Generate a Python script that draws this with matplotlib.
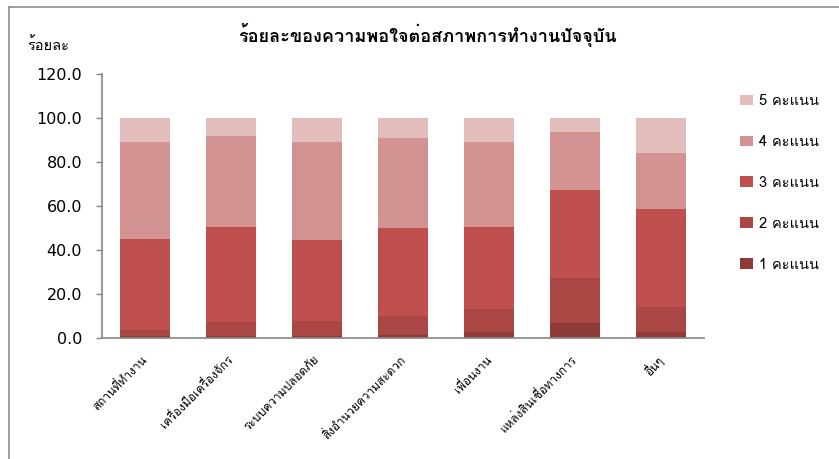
import matplotlib
matplotlib.use("Agg")
import matplotlib.pyplot as plt
from matplotlib.lines import Line2D

categories = ["สถานที่ทำงาน", "เครื่องมือเครื่องจักร", "ระบบความปลอดภัย",
              "สิ่งอำนวยความสะดวก", "เพื่อนงาน", "แหล่งสินเชื่อทางการ", "อื่นๆ"]
s1 = [1.1, 1.1, 1.1, 1.5, 2.9, 7.0, 2.9]
s2 = [2.7, 6.3, 6.8, 8.6, 10.4, 20.4, 11.3]
s3 = [41.3, 43.1, 36.7, 40.0, 37.2, 39.9, 44.5]
s4 = [44.0, 41.3, 44.5, 40.8, 38.6, 26.3, 25.4]
s5 = [10.9, 8.2, 10.9, 9.1, 10.9, 6.4, 15.9]
series_labels = ["1 คะแนน", "2 คะแนน", "3 คะแนน", "4 คะแนน", "5 คะแนน"]
yticks = [0, 20, 40, 60, 80, 100, 120]
title = "ร้อยละของความพอใจต่อสภาพการทำงานปัจจุบัน"
ylabel = "ร้อยละ"

colors = ["#8E3A38", "#AA4644", "#C0504D", "#D39392", "#E2BDBC"]
TH = ["Loma", "DejaVu Sans"]
axis_gray = "#868686"

fig = plt.figure(figsize=(8.39, 4.59), dpi=100)
W, H = 839, 459
ax = fig.add_axes([102/W, 1-338/H, (704-102)/W, (338-74)/H])
x = list(range(len(categories)))
bottom = [0]*len(categories)
handles = []
for vals, lab, c in zip([s1, s2, s3, s4, s5], series_labels, colors):
    h = ax.bar(x, vals, bottom=bottom, width=0.58, color=c, label=lab, linewidth=0)
    handles.append(h)
    bottom = [b+v for b, v in zip(bottom, vals)]

ax.set_ylim(0, 120)
ax.set_xlim(-0.5, len(categories)-0.5)
ax.set_yticks(yticks)
ax.set_yticklabels([f"{v:.1f}" for v in yticks], fontsize=11.5, family="DejaVu Sans")
ax.set_xticks(x)
ax.set_xticklabels(categories, rotation=45, ha="right", va="center",
                   rotation_mode="anchor", fontsize=8.5, family=TH)
ax.tick_params(axis="x", length=0, pad=14)
ax.tick_params(axis="y", length=4.3, width=1, color=axis_gray, pad=10)
for s in ["top", "right"]:
    ax.spines[s].set_visible(False)
for s in ["left", "bottom"]:
    ax.spines[s].set_color(axis_gray)
    ax.spines[s].set_linewidth(1.2)

fig.text(427/W, 1-35/H, title, ha="center", va="center", fontsize=13,
         fontweight="bold", family=TH)
fig.text(27/W, 1-45/H, ylabel, ha="left", va="center", fontsize=10.5, family=TH)

leg = fig.legend(handles[::-1], series_labels[::-1], loc="upper left",
                 bbox_to_anchor=(740/W, 1-94/H), frameon=False,
                 prop={"family": TH, "size": 10.5},
                 handlelength=0.9, handleheight=0.76, handletextpad=0.4,
                 labelspacing=1.85, borderpad=0, borderaxespad=0)

# outer frame (top and left edges visible in the reference)
fig.add_artist(Line2D([8.5/W, 8.5/W], [0, 1-6.5/H], color="#8c8c8c", lw=1.2))
fig.add_artist(Line2D([8.5/W, 1], [1-6.5/H, 1-6.5/H], color="#8c8c8c", lw=1.2))

fig.savefig("out.png", dpi=100)
